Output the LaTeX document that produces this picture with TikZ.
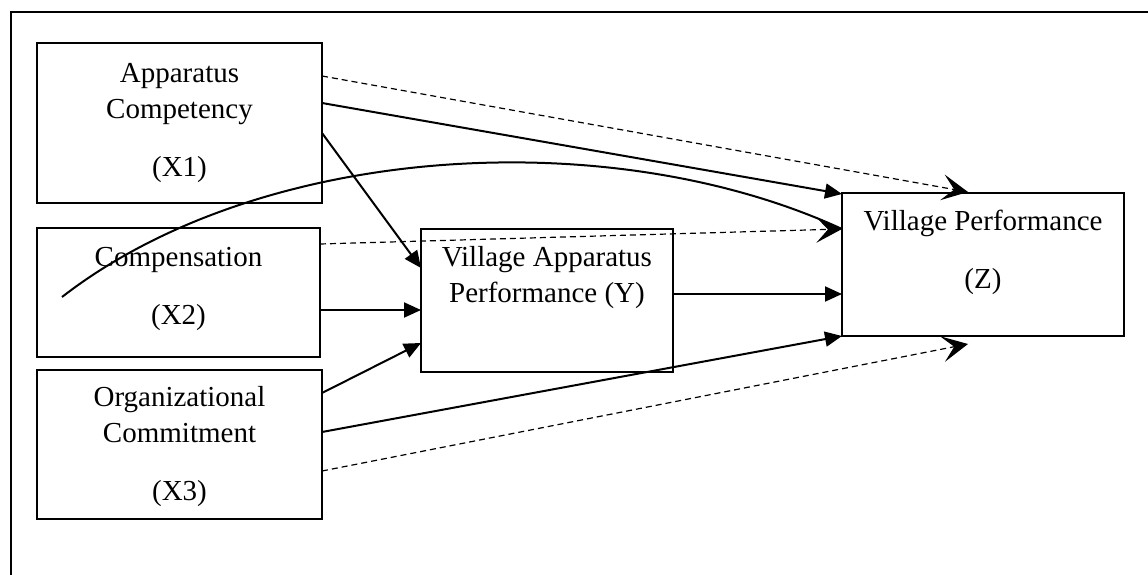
\documentclass[tikz,border=0pt]{standalone}
\usepackage{fontspec}
\setmainfont{Liberation Serif}
\usetikzlibrary{arrows.meta,calc}
\begin{document}
\begin{tikzpicture}[x=1pt,y=-1pt,
  box/.style={draw,line width=2pt,inner sep=0pt,outer sep=0pt,anchor=north west},
  lbl/.style={inner sep=0pt,align=center,font=\fontsize{29}{36}\selectfont},
  solidarr/.style={line width=2pt,-{Triangle[length=17pt,width=15pt]}},
  dasharr/.style={line width=1.2pt,dash pattern=on 6pt off 4pt,-{Stealth[length=26pt,width=26pt,inset=12pt]}},
  curvearr/.style={line width=2pt}
]
\path[use as bounding box] (0,0) rectangle (1148,575);
\begin{scope}
  \clip (0,0) rectangle (1148,575);
  \draw[line width=2pt] (1160,12) -- (11,12) -- (11,590);
\end{scope}

% boxes
\node[box,minimum width=285pt,minimum height=160pt] (x1) at (37,43) {};
\node[box,minimum width=283pt,minimum height=129pt] (x2) at (37,228) {};
\node[box,minimum width=285pt,minimum height=149pt] (x3) at (37,370) {};
\node[box,minimum width=252pt,minimum height=143pt] (y) at (421,229) {};
\node[box,minimum width=282pt,minimum height=143pt] (z) at (842,193) {};

% labels
\node[lbl] (x1t) at (179.5,121.8) {Apparatus\strut\\Competency\strut\\[22pt](X1)\strut};
\node[lbl] (x2t) at (178.5,288.5) {Compensation\strut\\[22pt](X2)\strut};
\node[lbl] (x3t) at (179.5,446.5) {Organizational\strut\\Commitment\strut\\[22pt](X3)\strut};
\node[lbl] (yt) at (547,277.5) {Village Apparatus\strut\\Performance (Y)\strut};
\node[lbl] (zt) at (983,251.8) {Village Performance\strut\\[22pt](Z)\strut};

% connectors
\draw[dasharr] ($(x1.north east)+(0,33)$) -- ($(z.north west)+(126,-1)$);
\draw[solidarr] ($(x1.north east)+(0,60)$) -- ($(z.north west)+(0,1)$);
\draw[solidarr] ($(x1.north east)+(0,90)$) -- ($(y.north west)+(0,39)$);
\draw[curvearr] ($(x2.north west)+(25,69)$) .. controls +(200,-155) and +(-230,-106) .. ($(z.north west)+(0,36)$);
\draw[dasharr] ($(x2.north east)+(0,16)$) -- ($(z.north west)+(0,36)$);
\draw[solidarr] ($(x2.north east)+(0,82)$) -- ($(y.north west)+(0,81)$);
\draw[solidarr] ($(y.north east)+(0,65)$) -- ($(z.north west)+(0,101)$);
\draw[solidarr] ($(x3.north east)+(0,23)$) -- ($(y.north west)+(0,114)$);
\draw[solidarr] ($(x3.north east)+(0,62)$) -- (z.south west);
\draw[dasharr] ($(x3.north east)+(0,101)$) -- ($(z.south west)+(126,8)$);
\end{tikzpicture}
\end{document}
